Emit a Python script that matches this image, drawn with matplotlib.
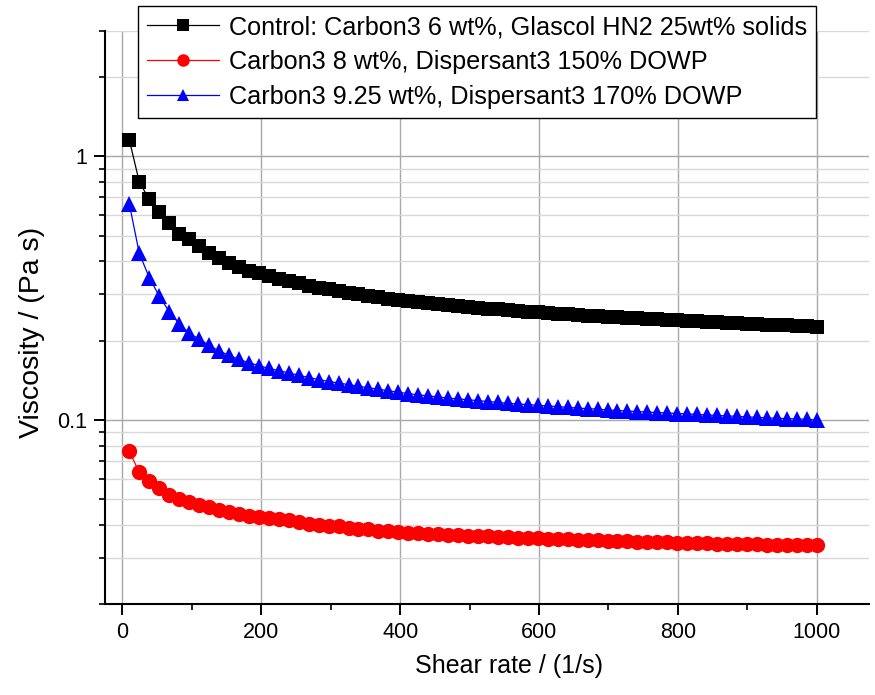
import matplotlib
matplotlib.use("Agg")
import matplotlib.pyplot as plt
from matplotlib.ticker import LogLocator, FixedLocator, NullFormatter, FuncFormatter, MultipleLocator

plt.rcParams['font.family'] = ['Liberation Sans', 'DejaVu Sans']

shear_rate = [10.0, 24.3, 38.7, 53.0, 67.4, 81.7, 96.1, 110.4, 124.8, 139.1,
              153.5, 167.8, 182.2, 196.5, 210.9, 225.2, 239.6, 253.9, 268.3, 282.6,
              297.0, 311.3, 325.7, 340.0, 354.3, 368.7, 383.0, 397.4, 411.7, 426.1,
              440.4, 454.8, 469.1, 483.5, 497.8, 512.2, 526.5, 540.9, 555.2, 569.6,
              583.9, 598.3, 612.6, 627.0, 641.3, 655.7, 670.0, 684.3, 698.7, 713.0,
              727.4, 741.7, 756.1, 770.4, 784.8, 799.1, 813.5, 827.8, 842.2, 856.5,
              870.9, 885.2, 899.6, 913.9, 928.3, 942.6, 957.0, 971.3, 985.7, 1000.0]

visc_control = [1.156, 0.802, 0.687, 0.618, 0.561, 0.509, 0.485, 0.456, 0.432, 0.412,
                0.395, 0.381, 0.368, 0.360, 0.351, 0.344, 0.337, 0.330, 0.323, 0.318,
                0.313, 0.309, 0.304, 0.301, 0.296, 0.292, 0.289, 0.286, 0.283, 0.280,
                0.278, 0.275, 0.273, 0.271, 0.269, 0.267, 0.265, 0.263, 0.261, 0.259,
                0.258, 0.256, 0.255, 0.253, 0.252, 0.250, 0.249, 0.248, 0.246, 0.245,
                0.244, 0.243, 0.242, 0.241, 0.240, 0.239, 0.238, 0.237, 0.236, 0.235,
                0.234, 0.233, 0.232, 0.231, 0.230, 0.229, 0.229, 0.228, 0.227, 0.226]

visc_disp150 = [0.0763, 0.0633, 0.0587, 0.0553, 0.0520, 0.0502, 0.0488, 0.0477, 0.0467, 0.0457,
                0.0449, 0.0441, 0.0434, 0.0430, 0.0425, 0.0420, 0.0416, 0.0410, 0.0405, 0.0401,
                0.0398, 0.0395, 0.0391, 0.0387, 0.0385, 0.0380, 0.0378, 0.0376, 0.0374, 0.0372,
                0.0370, 0.0369, 0.0367, 0.0366, 0.0364, 0.0363, 0.0362, 0.0360, 0.0359, 0.0358,
                0.0357, 0.0356, 0.0355, 0.0354, 0.0353, 0.0352, 0.0351, 0.0350, 0.0349, 0.0348,
                0.0347, 0.0346, 0.0346, 0.0345, 0.0344, 0.0343, 0.0342, 0.0342, 0.0341, 0.0340,
                0.0340, 0.0339, 0.0338, 0.0338, 0.0337, 0.0337, 0.0336, 0.0336, 0.0335, 0.0335]

visc_disp170 = [0.661, 0.430, 0.347, 0.296, 0.258, 0.232, 0.214, 0.203, 0.192, 0.183,
                0.176, 0.170, 0.165, 0.161, 0.157, 0.154, 0.151, 0.148, 0.145, 0.1425,
                0.140, 0.1383, 0.1362, 0.1345, 0.1325, 0.131, 0.1292, 0.1275, 0.1260, 0.1246,
                0.1236, 0.1222, 0.1212, 0.1203, 0.1194, 0.1185, 0.1176, 0.1167, 0.1158, 0.1150,
                0.1145, 0.1137, 0.1132, 0.1124, 0.1118, 0.1110, 0.1105, 0.1100, 0.1092, 0.1087,
                0.1082, 0.1077, 0.1073, 0.1068, 0.1064, 0.1059, 0.1055, 0.1050, 0.1046, 0.1041,
                0.1037, 0.1033, 0.1028, 0.1024, 0.1019, 0.1015, 0.1013, 0.1010, 0.1006, 0.1001]

labels = ["Control: Carbon3 6 wt%, Glascol HN2 25wt% solids",
          "Carbon3 8 wt%, Dispersant3 150% DOWP",
          "Carbon3 9.25 wt%, Dispersant3 170% DOWP"]

x_ticks = [0, 200, 400, 600, 800, 1000]

fig = plt.figure(figsize=(8.75, 6.95), dpi=100)
ax = fig.add_axes([0.12, 0.1305, 0.873, 0.8253])

l1, = ax.plot(shear_rate, visc_control, color='black', lw=0.9, marker='s', ms=10,
              markeredgewidth=0, label=labels[0])
l2, = ax.plot(shear_rate, visc_disp150, color='red', lw=0.9, marker='o', ms=11,
              markeredgewidth=0, label=labels[1])
l3, = ax.plot(shear_rate, visc_disp170, color='blue', lw=0.9, marker='^', ms=12,
              markeredgewidth=0, label=labels[2])

ax.set_yscale('log')
ax.set_ylim(0.02, 3)
ax.set_xlim(-25, 1075)

ax.xaxis.set_major_locator(FixedLocator(x_ticks))
ax.xaxis.set_minor_locator(MultipleLocator(100))
ax.yaxis.set_major_locator(LogLocator(base=10, numticks=10))
ax.yaxis.set_minor_locator(LogLocator(base=10, subs=range(2, 10), numticks=20))
ax.yaxis.set_major_formatter(FuncFormatter(lambda v, p: f"{v:g}"))
ax.yaxis.set_minor_formatter(NullFormatter())

ax.grid(True, which='major', axis='both', color='#a8a8a8', lw=1.0)
ax.grid(True, which='minor', axis='y', color='#d8d8d8', lw=1.0)
ax.set_axisbelow(True)

for s in ['top', 'right']:
    ax.spines[s].set_visible(False)
for s in ['left', 'bottom']:
    ax.spines[s].set_linewidth(1.5)

ax.tick_params(which='major', direction='out', length=8, width=1.4, labelsize=15.5, pad=5)
ax.tick_params(which='minor', direction='out', length=4, width=1.2)

ax.set_xlabel("Shear rate / (1/s)", fontsize=18)
ax.set_ylabel("Viscosity / (Pa s)", fontsize=20.5)
ax.xaxis.set_label_coords((509 - 105) / (869 - 105), -0.086)
ax.yaxis.set_label_coords(-0.079, (604 - 332) / (604 - 31))

leg = fig.legend(handles=[l1, l2, l3], loc='upper left',
                 bbox_to_anchor=(138 / 875, 1 - 6 / 695), fontsize=18.2,
                 frameon=True, fancybox=False, framealpha=1, edgecolor='black',
                 handlelength=2.85, handletextpad=0.4, borderpad=0.36,
                 labelspacing=0.44, borderaxespad=0)
leg.get_frame().set_linewidth(1.0)
for h in leg.legend_handles:
    h.set_markersize(9)

fig.savefig("out.png", dpi=100)
